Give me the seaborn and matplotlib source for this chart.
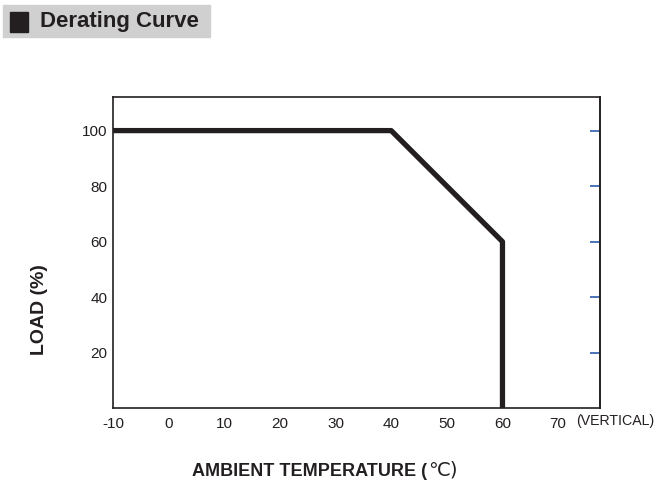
import pandas as pd
import matplotlib.pyplot as plt
from matplotlib.patches import Rectangle
import seaborn as sns

# derating curve points
temps = [-10, 40, 60, 60]
loads = [100, 100, 60, 0]
x_ticks = [-10, 0, 10, 20, 30, 40, 50, 60, 70]
y_ticks = [20, 40, 60, 80, 100]

df = pd.DataFrame({'temp': temps, 'load': loads})

sns.set_style('white')
plt.rcParams['font.family'] = ['Liberation Sans', 'DejaVu Sans']
plt.rcParams['axes.unicode_minus'] = False

fig = plt.figure(figsize=(6.57, 5.04), dpi=100)
ax = fig.add_axes([0.172, 0.19, 0.741, 0.617])

sns.lineplot(data=df, x='temp', y='load', sort=False, estimator=None,
             color='#231f20', linewidth=3.8, ax=ax)

ax.set_xlim(-10, 77.5)
ax.set_ylim(0, 112)
ax.set_xticks(x_ticks)
ax.set_yticks(y_ticks)
ax.tick_params(axis='both', direction='in', length=7, width=1, color='#231f20',
               labelsize=11, labelcolor='#231f20', pad=4)
ax.tick_params(axis='x', pad=6)

for s in ax.spines.values():
    s.set_visible(True)
    s.set_color('#231f20')
    s.set_linewidth(1.2)

# blue inward ticks on the right border
sec = ax.secondary_yaxis('right')
sec.set_yticks(y_ticks)
sec.tick_params(direction='in', length=7, width=1.2, color='#2a5caa', labelright=False)
sec.spines['right'].set_color('#231f20')
sec.spines['right'].set_linewidth(1.2)

ax.set_xlabel('')
ax.set_ylabel('')

# axis labels
fig.text(40 / 657, 1 - 310 / 504, 'LOAD (%)', rotation=90, ha='center', va='center',
         fontsize=14, fontweight='bold', color='#231f20')
xl = fig.text(192 / 657, 1 - 471 / 504, 'AMBIENT TEMPERATURE (', ha='left', va='center',
              fontsize=13, fontweight='bold', color='#231f20')
fig.canvas.draw()
bb = xl.get_window_extent(renderer=fig.canvas.get_renderer())
fig.text(bb.x1 / fig.bbox.width + 1 / 657, 1 - 470 / 504, '℃)', ha='left', va='center',
         fontsize=14, color='#231f20', family=['DejaVu Sans'])
fig.text(576 / 657, 1 - 421 / 504, '(VERTICAL)', ha='left', va='center',
         fontsize=10.2, color='#231f20')

# header box
fig.patches.append(Rectangle((3 / 657, 1 - 37 / 504), 207 / 657, 32 / 504,
                             transform=fig.transFigure, color='#d0d0d0', zorder=0))
fig.patches.append(Rectangle((10 / 657, 1 - 32 / 504), 18 / 657, 20 / 504,
                             transform=fig.transFigure, color='#231f20', zorder=1))
fig.text(40 / 657, 1 - 22 / 504, 'Derating Curve', ha='left', va='center',
         fontsize=16, fontweight='bold', color='#231f20')

plt.savefig('out.png', dpi=100)
